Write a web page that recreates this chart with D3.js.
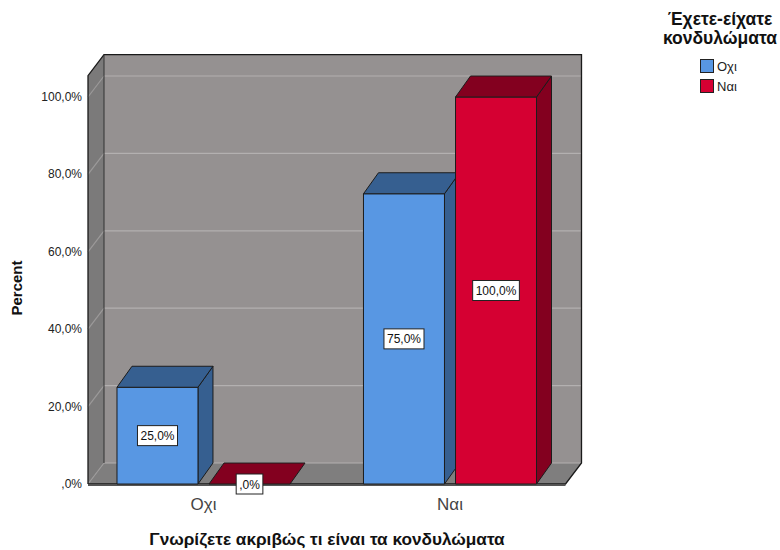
<!DOCTYPE html>
<html>
<head>
<meta charset="utf-8">
<script src="https://cdn.jsdelivr.net/npm/d3@7"></script>
<style>
  html, body { margin: 0; padding: 0; background: #ffffff; }
  svg { display: block; font-family: "Liberation Sans", Arial, sans-serif; }
</style>
</head>
<body>
<svg id="chart" width="780" height="550"></svg>
<script>
// Answers to "Γνωρίζετε ακριβώς τι είναι τα κονδυλώματα" (x categories)
const categories = ["Οχι", "Ναι"];
// Legend groups: "Έχετε-είχατε κονδυλώματα"
const groups = ["Οχι", "Ναι"];
// Percent within each group, one array per group, in category order
const valuesOxi = [25.0, 75.0];
const valuesNai = [0.0, 100.0];
const yTicks = [0, 20, 40, 60, 80, 100];

const seriesValues = { "Οχι": valuesOxi, "Ναι": valuesNai };
const pctLabel = v => {
  const s = v.toFixed(1).replace(".", ",");
  return (s.startsWith("0,") ? s.slice(1) : s) + "%";
};

const colors = {
  "Οχι": { front: "#5897e3", dark: "#365f90" },
  "Ναι": { front: "#d50032", dark: "#83001f" }
};

const svg = d3.select("#chart");

// Plot frame (front plane) and 3D depth offset
const left = 88, right = 565.5, base = 484;
const depthX = 16, depthY = -21;
const yTop = 105.5; // upper end of the walls, in percent

const y = d3.scaleLinear().domain([0, 100]).range([base, 97]);

const x0 = d3.scaleBand()
  .domain(categories)
  .range([left, right])
  .paddingInner(0.298)
  .paddingOuter(0.1176);

const x1 = d3.scaleBand()
  .domain(groups)
  .range([0, x0.bandwidth()])
  .paddingInner(0.12);

const wallTop = y(yTop);

// Back wall
svg.append("rect")
  .attr("x", left + depthX).attr("y", wallTop + depthY)
  .attr("width", right - left).attr("height", base - wallTop)
  .attr("fill", "#959191");

// Left wall
svg.append("polygon")
  .attr("points", [
    [left, base], [left, wallTop], [left + depthX, wallTop + depthY], [left + depthX, base + depthY]
  ].join(" "))
  .attr("fill", "#7b7a7a");

// Floor
svg.append("polygon")
  .attr("points", [
    [left, base], [right, base], [right + depthX, base + depthY], [left + depthX, base + depthY]
  ].join(" "))
  .attr("fill", "#7f7e7e");

// Gridlines on back wall and left wall
const grid = svg.append("g").attr("stroke", "#b3b0b0").attr("stroke-width", 1.2).attr("fill", "none");
yTicks.forEach(t => {
  const yy = y(t);
  grid.append("line")
    .attr("x1", left + depthX).attr("x2", right + depthX)
    .attr("y1", yy + depthY).attr("y2", yy + depthY);
  grid.append("line")
    .attr("x1", left).attr("y1", yy)
    .attr("x2", left + depthX).attr("y2", yy + depthY)
    .attr("stroke", "#9c9a9a");
});

// Frame outlines
const frame = svg.append("g").attr("stroke", "#1a1a1a").attr("stroke-width", 1.3).attr("fill", "none");
frame.append("polyline").attr("points", [
  [left, base], [left, wallTop], [left + depthX, wallTop + depthY],
  [right + depthX, wallTop + depthY], [right + depthX, base + depthY], [right, base], [left, base]
].join(" "));
frame.append("line")
  .attr("x1", left + depthX).attr("y1", wallTop + depthY)
  .attr("x2", left + depthX).attr("y2", base + depthY)
  .attr("stroke", "#333").attr("stroke-width", 1);
svg.append("line")
  .attr("x1", left).attr("x2", right).attr("y1", base + 1.5).attr("y2", base + 1.5)
  .attr("stroke", "#555").attr("stroke-width", 1);

// Y axis tick labels
svg.append("g").selectAll("text")
  .data(yTicks)
  .join("text")
  .attr("x", 82)
  .attr("y", d => y(d) + 4)
  .attr("text-anchor", "end")
  .attr("font-size", 12)
  .attr("fill", "#222")
  .text(d => pctLabel(d));

// 3D bars
const bars = [];
categories.forEach((c, ci) => {
  groups.forEach(g => {
    bars.push({ cat: c, group: g, value: seriesValues[g][ci] });
  });
});

const barG = svg.append("g").attr("stroke", "#1c1c1c").attr("stroke-width", 1).attr("stroke-linejoin", "round");
bars.forEach(b => {
  const bx = x0(b.cat) + x1(b.group);
  const bw = x1.bandwidth();
  const by = y(b.value);
  const col = colors[b.group];
  const dX = depthX - 1, dY = depthY;
  if (b.value > 0) {
    // side face
    barG.append("polygon")
      .attr("points", [[bx + bw, by], [bx + bw + dX, by + dY], [bx + bw + dX, base + dY], [bx + bw, base]].join(" "))
      .attr("fill", col.dark);
    // front face
    barG.append("rect")
      .attr("x", bx).attr("y", by).attr("width", bw).attr("height", base - by)
      .attr("fill", col.front);
  }
  // top face
  barG.append("polygon")
    .attr("points", [[bx, by], [bx + bw, by], [bx + bw + dX, by + dY], [bx + dX, by + dY]].join(" "))
    .attr("fill", col.dark);
});

// Value labels at the middle of each bar
const lab = svg.append("g");
bars.forEach(b => {
  const cx = x0(b.cat) + x1(b.group) + x1.bandwidth() / 2;
  const cy = (y(b.value) + base) / 2;
  const txt = pctLabel(b.value);
  const t = lab.append("text")
    .attr("x", cx).attr("y", cy + 4.5)
    .attr("text-anchor", "middle")
    .attr("font-size", 12)
    .attr("fill", "#111")
    .text(txt);
  const w = t.node().getComputedTextLength() + 6;
  lab.insert("rect", () => t.node())
    .attr("x", cx - w / 2).attr("y", cy - 10)
    .attr("width", w).attr("height", 20)
    .attr("fill", "#ffffff")
    .attr("stroke", "#222").attr("stroke-width", 1);
});

// X category labels
svg.append("g").selectAll("text")
  .data(categories)
  .join("text")
  .attr("x", d => x0(d) + x0.bandwidth() / 2)
  .attr("y", 510)
  .attr("text-anchor", "middle")
  .attr("font-size", 17)
  .attr("fill", "#444")
  .text(d => d);

// Axis titles
svg.append("text")
  .attr("x", 327).attr("y", 545)
  .attr("text-anchor", "middle")
  .attr("font-size", 17.2)
  .attr("font-weight", "bold")
  .attr("fill", "#111")
  .text("Γνωρίζετε ακριβώς τι είναι τα κονδυλώματα");

svg.append("text")
  .attr("transform", "translate(22,288) rotate(-90)")
  .attr("text-anchor", "middle")
  .attr("font-size", 15)
  .attr("font-weight", "bold")
  .attr("fill", "#111")
  .text("Percent");

// Legend
const legend = svg.append("g");
legend.append("text")
  .attr("x", 720).attr("y", 25)
  .attr("text-anchor", "middle")
  .attr("font-size", 17.5)
  .attr("font-weight", "bold")
  .attr("fill", "#111")
  .selectAll("tspan")
  .data(["Έχετε-είχατε", "κονδυλώματα"])
  .join("tspan")
  .attr("x", 720)
  .attr("dy", (d, i) => (i === 0 ? 0 : 19))
  .text(d => d);

groups.forEach((g, i) => {
  const ly = 59 + i * 20;
  legend.append("rect")
    .attr("x", 700.5).attr("y", ly + 0.5)
    .attr("width", 13).attr("height", 13)
    .attr("fill", colors[g].front)
    .attr("stroke", "#222").attr("stroke-width", 1);
  legend.append("text")
    .attr("x", 717).attr("y", ly + 12)
    .attr("font-size", 13)
    .attr("fill", "#222")
    .text(g);
});
</script>
</body>
</html>
